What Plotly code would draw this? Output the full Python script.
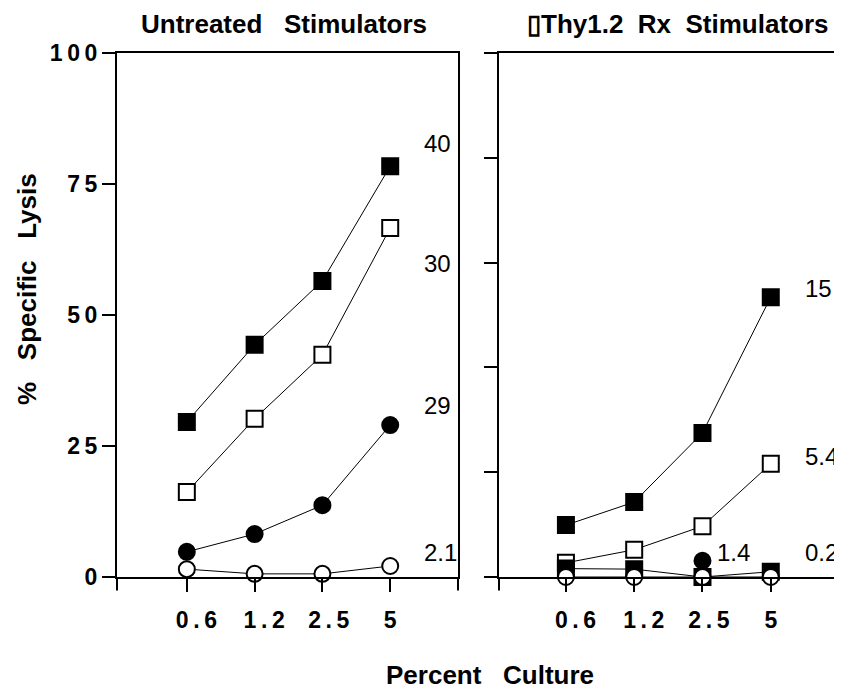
import plotly.graph_objects as go

# data
doses = ["0.6", "1.2", "2.5", "5"]
# leading spaces push the labels right of their ticks as in the original
dose_ticks = ["\u00a0\u00a0\u00a00\u2009.\u20096", "\u00a0\u00a0\u00a01\u2009.\u20092",
              "\u00a0\u00a02\u2009.\u20095", "5"]

# untreated stimulators (% specific lysis)
untr_filled_sq = [29.6, 44.3, 56.5, 78.4]
untr_open_sq = [16.2, 30.2, 42.4, 66.6]
untr_filled_circ = [4.8, 8.2, 13.7, 29.0]
untr_open_circ = [1.5, 0.6, 0.6, 2.1]
untr_labels = ["40", "30", "29", "2.1"]

# anti-Thy1.2 treated stimulators
thy_filled_sq = [9.9, 14.3, 27.5, 53.4]
thy_open_sq = [2.7, 5.2, 9.7, 21.6]
thy_low_sq = [1.6, 1.5, 0.0, 1.0]
thy_filled_circ = [None, None, 3.1, None]
thy_open_circ = [0.0, 0.0, 0.0, 0.0]
thy_labels = ["15", "5.4", "1.4", "0.2"]

y_ticks = [0, 25, 50, 75, 100]
y_ticktext = ["0", "2\u20095", "5\u20090", "7\u20095", "1\u20090\u20090"]

FONT = "Liberation Sans, Arial, sans-serif"
W, H = 834, 682   # page body has an 8px margin


def px(x, y):
    # reference-pixel position -> paper coords
    return (x - 8) / W, 1 - (y - 8) / H


fig = go.Figure()


def add_series(y, xa, ya, symbol, filled):
    fig.add_trace(go.Scatter(
        x=doses, y=y, xaxis=xa, yaxis=ya,
        mode="lines+markers", cliponaxis=False, showlegend=False,
        line=dict(color="black", width=1),
        marker=dict(symbol=symbol, size=16,
                    color="black" if filled else "white",
                    line=dict(color="black", width=2)),
    ))


add_series(untr_filled_sq, "x", "y", "square", True)
add_series(untr_open_sq, "x", "y", "square", False)
add_series(untr_filled_circ, "x", "y", "circle", True)
add_series(untr_open_circ, "x", "y", "circle", False)

add_series(thy_filled_sq, "x2", "y2", "square", True)
add_series(thy_open_sq, "x2", "y2", "square", False)
add_series(thy_low_sq, "x2", "y2", "square", True)
add_series(thy_filled_circ, "x2", "y2", "circle", True)
add_series(thy_open_circ, "x2", "y2", "circle", False)

axis_common = dict(showline=True, linecolor="black", linewidth=2, mirror=True,
                   ticks="outside", ticklen=13, tickwidth=2, tickcolor="black",
                   showgrid=False, zeroline=False, automargin=False,
                   tickfont=dict(family=FONT, size=23, color="black", weight="bold"))

x_left = [px(117, 0)[0], px(458, 0)[0]]
x_right = [px(499, 0)[0], px(837, 0)[0]]
y_dom = [px(0, 577)[1], px(0, 53)[1]]

fig.update_layout(
    template="none",
    width=W, height=H,
    margin=dict(l=0, r=0, t=0, b=0, pad=0),
    paper_bgcolor="white", plot_bgcolor="white",
    font=dict(family=FONT, color="black"),
    xaxis=dict(axis_common, domain=x_left, type="category",
               range=[-1.03, 4.0], tickvals=doses, ticktext=dose_ticks,
               ticklabelstandoff=8, anchor="y"),
    yaxis=dict(axis_common, domain=y_dom, range=[0, 100],
               tickvals=y_ticks, ticktext=y_ticktext, anchor="x"),
    xaxis2=dict(axis_common, domain=x_right, type="category",
                range=[-0.98, 3.97], tickvals=doses, ticktext=dose_ticks,
                ticklabelstandoff=8, anchor="y2"),
    yaxis2=dict(axis_common, domain=y_dom, range=[0, 100],
                tickvals=[0, 20, 40, 60, 80, 100], showticklabels=False,
                anchor="x2"),
)

# frame edges extend below the x axis
for xa, ya in (("x", "y"), ("x2", "y2")):
    for xv in (0, 1):
        fig.add_shape(type="line", xref=xa + " domain", yref=ya + " domain",
                      x0=xv, x1=xv, y0=-0.026, y1=0,
                      line=dict(color="black", width=2))

# end-of-line value labels
lab_font = dict(family=FONT, size=24, color="black")
for txt, yv in zip(untr_labels, [82.8, 59.9, 32.8, 4.6]):
    fig.add_annotation(x=3.47, y=yv, xref="x", yref="y", text=txt,
                       showarrow=False, xanchor="left", yanchor="middle",
                       font=lab_font)
for txt, xv, yv in zip(thy_labels, [3.47, 3.47, 2.18, 3.47], [55.0, 22.9, 4.6, 4.6]):
    fig.add_annotation(x=xv, y=yv, xref="x2", yref="y2", text=txt,
                       showarrow=False, xanchor="left", yanchor="middle",
                       font=lab_font)

bold = dict(family=FONT, size=26, color="black", weight="bold")
sp3 = "\u00a0\u00a0\u00a0"
sp2 = "\u00a0\u00a0"
texts = [
    ("Untreated" + sp3 + "Stimulators", 283.5, 24, 0),
    ("\u25afThy1.2" + sp2 + "Rx" + sp2 + "Stimulators", 677.5, 24, 0),
    ("Percent" + sp3 + "Culture", 490, 675, 0),
    ("%" + sp3 + "Specific" + sp3 + "Lysis", 27, 289, -90),
]
for txt, rx, ry, ang in texts:
    ax, ay = px(rx, ry)
    fig.add_annotation(x=ax, y=ay, xref="paper", yref="paper", text=txt,
                       showarrow=False, textangle=ang,
                       xanchor="center", yanchor="middle", font=bold)

fig.write_html("out.html")
